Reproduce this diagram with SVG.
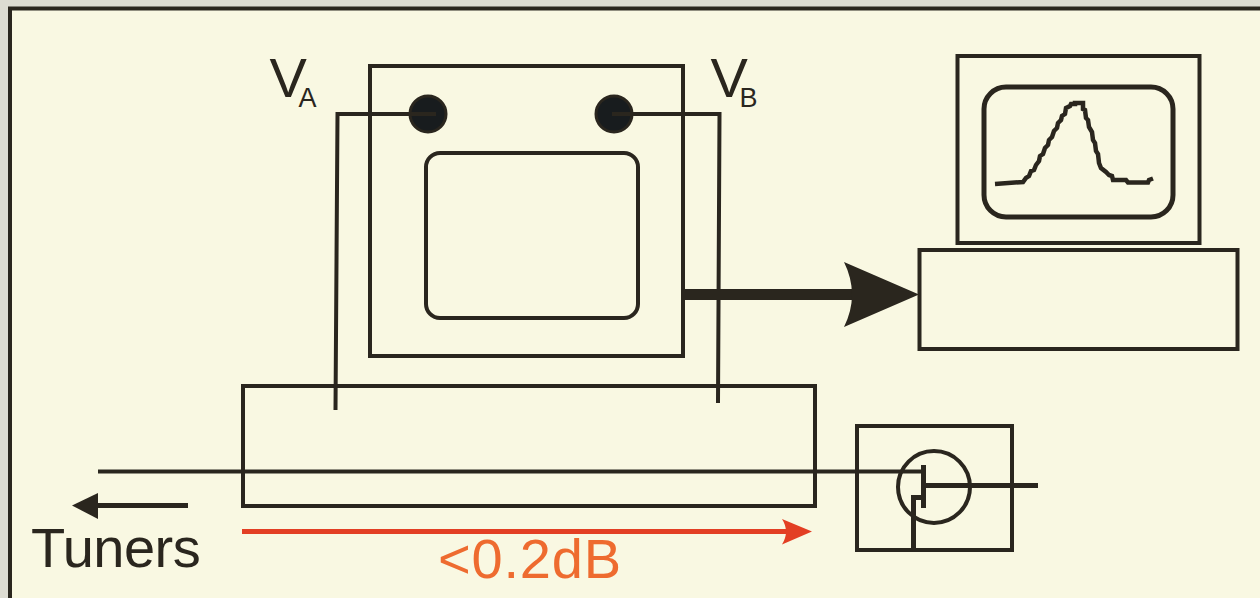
<svg xmlns="http://www.w3.org/2000/svg" width="1260" height="598" viewBox="0 0 1260 598">
<style>
.s{fill:none;stroke:#2a261e;stroke-width:4}
.t{fill:none;stroke:#2a261e;stroke-width:5}
.f{fill:#2a261e}
text{font-family:"Liberation Sans",Arial,sans-serif;fill:#2a261e}
</style>
<rect width="1260" height="598" fill="#dddcd2"/>
<rect x="10" y="8.500" width="1260" height="600" fill="#f9f8e2" stroke="#2a261e" stroke-width="4"/>
<g id="analyzer">
<rect class="s" x="370" y="66" width="313" height="290"/>
<rect class="s" x="426" y="153" width="212" height="165" rx="14"/>
<circle cx="428" cy="114" r="18" fill="#181c1e" stroke="#2a261e" stroke-width="3"/>
<circle cx="614" cy="114" r="18" fill="#181c1e" stroke="#2a261e" stroke-width="3"/>
</g>
<g id="monitor">
<rect class="s" x="957.500" y="56" width="242" height="187"/>
<rect class="t" x="984" y="87" width="189" height="130" rx="22"/>
<path fill="none" stroke="#2a261e" stroke-width="4.500" stroke-linejoin="miter" d="M995 184L1023 182L1026 178L1029 176L1031 171L1034 170L1036 165L1039 161L1040 156L1043 154L1045 148L1048 145L1049 140L1052 137L1054 131L1057 128L1058 123L1061 120L1062 116L1065 114L1066 108L1070 106L1071 104L1075 104V103L1083 103V109L1085 110L1086 118L1088 120L1089 127L1092 132L1093 140L1095 143L1096 151L1098 154L1099 163L1101 168L1106 172L1109 175L1112 176L1113 180L1126 180L1128 182.500L1148 182.500L1149 180L1153 178.500"/>
</g>
<g id="computer"><rect class="s" x="919.500" y="250" width="318" height="99"/></g>
<g id="coupler"><rect class="s" x="243" y="386" width="572" height="120"/></g>
<g id="transistor">
<rect class="s" x="857" y="426" width="155" height="124"/>
<circle class="s" cx="934" cy="487" r="36"/>
</g>
<g id="connectors">
<path class="s" d="M335.500 410L337.500 114H436"/>
<path class="s" d="M612 114H719.500L718 403"/>
<path class="s" d="M98 471.500H923"/>
<path class="t" d="M923.500 465V508M923.500 485.500H1038M913.500 550V497.500H923"/>
<path d="M682 294.500H860" stroke="#2a261e" stroke-width="11" fill="none"/>
<path class="f" d="M844 262L919 294.500L844 327Q860 294.500 844 262Z"/>
<path class="t" d="M98 505.500H188"/>
<path class="f" d="M72 505.500L98 493V519Z"/>
<path d="M242 531.500H790" stroke="#e33f24" stroke-width="5" fill="none"/>
<path d="M782 519L812 531.500L782 544.500Q790 531.500 782 519Z" fill="#e33f24"/>
</g>
<g id="labels">
<text x="269.500" y="97" font-size="56">V<tspan x="298.500" y="107" font-size="27">A</tspan></text>
<text x="710.500" y="97" font-size="56">V<tspan x="739.500" y="107" font-size="27">B</tspan></text>
<text x="31" y="567" font-size="56" letter-spacing="-0.500">Tuners</text>
<text x="438" y="578" font-size="56" letter-spacing="0.800" style="fill:#ee6b2f">&lt;0.2dB</text>
</g>
</svg>
